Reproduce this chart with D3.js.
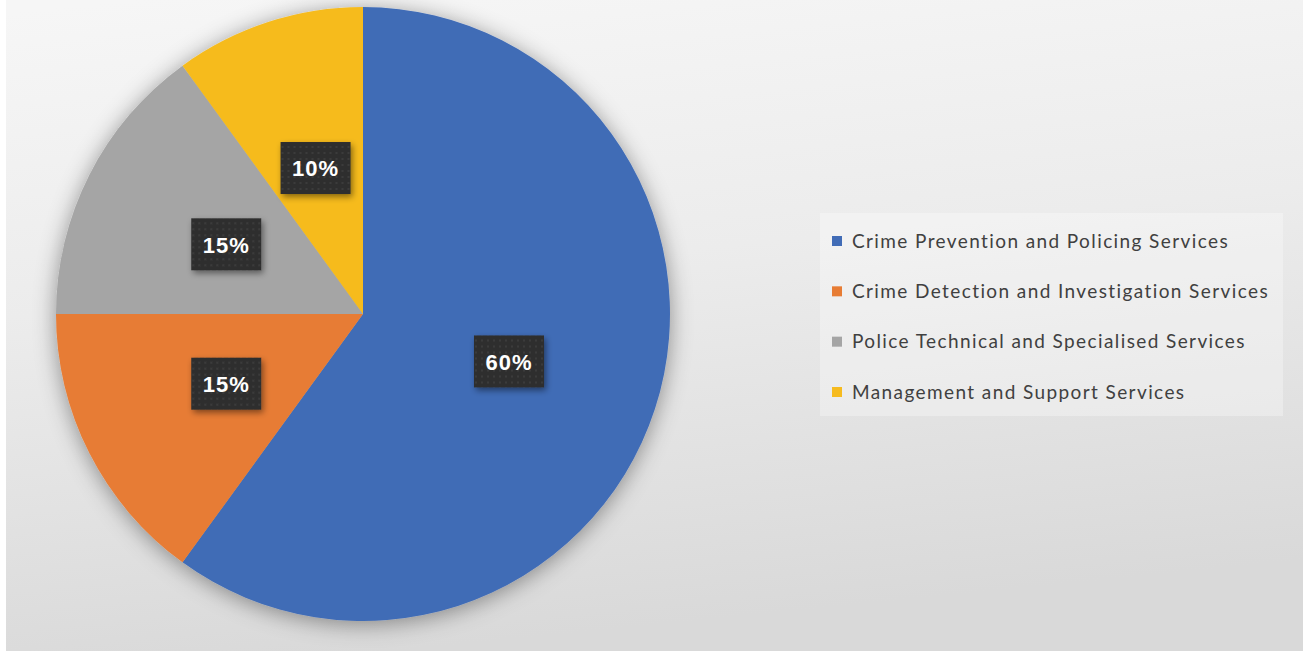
<!DOCTYPE html>
<html>
<head>
<meta charset="utf-8">
<script src="https://cdn.jsdelivr.net/npm/d3@7"></script>
<style>
  html, body { margin: 0; padding: 0; background: #ffffff; }
</style>
</head>
<body>
<div id="chart"></div>
<script>
var width = 1305;
var height = 653;

var categories = [
    "Crime Prevention and Policing Services",
    "Crime Detection and Investigation Services",
    "Police Technical and Specialised Services",
    "Management and Support Services"
];
var shares = [60, 15, 15, 10];
var colors = ["#416cb6", "#e77c34", "#a5a5a5", "#f6bb1f"];

var data = categories.map(function(c, i) {
    return { name: c, value: shares[i], color: colors[i] };
});

var svg = d3.select("#chart")
    .append("svg")
    .attr("width", width)
    .attr("height", height)

var defs = svg.append("defs")

var bg = defs.append("linearGradient")
    .attr("id", "bg")
    .attr("x1", "0.1").attr("y1", "0")
    .attr("x2", "0.3").attr("y2", "1")
bg.append("stop").attr("offset", "0").attr("stop-color", "#f6f6f6")
bg.append("stop").attr("offset", "0.45").attr("stop-color", "#ececec")
bg.append("stop").attr("offset", "1").attr("stop-color", "#d9d9d9")

var pieShadow = defs.append("filter")
    .attr("id", "pieShadow")
    .attr("x", "-20%").attr("y", "-20%")
    .attr("width", "140%").attr("height", "140%")
pieShadow.append("feDropShadow")
    .attr("dx", 0).attr("dy", 3)
    .attr("stdDeviation", 11)
    .attr("flood-color", "#000")
    .attr("flood-opacity", 0.4)

var boxShadow = defs.append("filter")
    .attr("id", "boxShadow")
    .attr("x", "-30%").attr("y", "-30%")
    .attr("width", "160%").attr("height", "160%")
boxShadow.append("feDropShadow")
    .attr("dx", 2).attr("dy", 3)
    .attr("stdDeviation", 3)
    .attr("flood-color", "#000")
    .attr("flood-opacity", 0.45)

var dots = defs.append("pattern")
    .attr("id", "dots")
    .attr("width", 6).attr("height", 6)
    .attr("patternUnits", "userSpaceOnUse")
dots.append("rect").attr("width", 6).attr("height", 6).attr("fill", "#2f2f2f")
dots.append("circle").attr("cx", 3).attr("cy", 3).attr("r", 0.8).attr("fill", "#4a4a4a")

// page background
svg.append("rect")
    .attr("x", 6).attr("y", 0)
    .attr("width", 1297).attr("height", 651)
    .attr("fill", "url(#bg)")

// pie
var cx = 363, cy = 314, radius = 307;

var pie = d3.pie().sort(null).value(function(d) { return d.value; });
var arc = d3.arc().innerRadius(0).outerRadius(radius);
var labelArc = d3.arc().innerRadius(radius * 0.5).outerRadius(radius * 0.5);

var g = svg.append("g").attr("transform", "translate(" + cx + "," + cy + ")")

g.append("g")
    .attr("filter", "url(#pieShadow)")
    .selectAll("path")
    .data(pie(data))
    .enter().append("path")
    .attr("d", arc)
    .attr("fill", function(d) { return d.data.color; })

var labels = g.selectAll(".label")
    .data(pie(data))
    .enter().append("g")
    .attr("class", "label")
    .attr("transform", function(d) {
        var c = labelArc.centroid(d);
        return "translate(" + c[0] + "," + c[1] + ")";
    })

labels.append("rect")
    .attr("x", -35).attr("y", -26)
    .attr("width", 70).attr("height", 52)
    .attr("fill", "url(#dots)")
    .attr("filter", "url(#boxShadow)")

labels.append("text")
    .attr("text-anchor", "middle")
    .attr("dy", "0.38em")
    .attr("fill", "#ffffff")
    .style("font-family", "'Liberation Sans', Arial, sans-serif")
    .style("font-weight", "bold")
    .style("font-size", "22px")
    .style("letter-spacing", "1px")
    .text(function(d) { return d.data.value + "%"; })

// legend
var legend = svg.append("g")

legend.append("rect")
    .attr("x", 820).attr("y", 213)
    .attr("width", 463).attr("height", 203)
    .attr("fill", "#ffffff")
    .attr("opacity", 0.3)

var legendY = d3.scalePoint().domain(categories).range([241, 392]);

var items = legend.selectAll(".item")
    .data(data)
    .enter().append("g")
    .attr("class", "item")
    .attr("transform", function(d) { return "translate(0," + legendY(d.name) + ")"; })

items.append("rect")
    .attr("x", 832).attr("y", -5)
    .attr("width", 10).attr("height", 10)
    .attr("fill", function(d) { return d.color; })

items.append("text")
    .attr("x", 852)
    .attr("dy", "0.35em")
    .attr("fill", "#404040")
    .style("font-family", "Lato, 'Open Sans', sans-serif")
    .style("font-size", "19px")
    .style("letter-spacing", "1.4px")
    .text(function(d) { return d.name; })
</script>
</body>
</html>
